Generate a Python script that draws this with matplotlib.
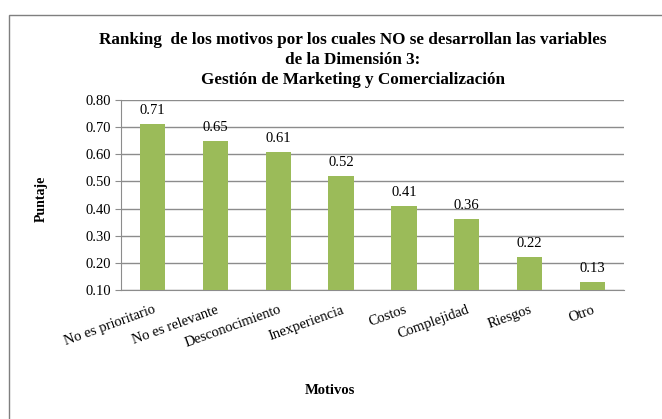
import matplotlib
matplotlib.use("Agg")
import matplotlib.pyplot as plt
from matplotlib.patches import Rectangle

categorias = ["No es prioritario", "No es relevante", "Desconocimiento", "Inexperiencia",
              "Costos", "Complejidad", "Riesgos", "Otro"]
puntaje = [0.71, 0.65, 0.61, 0.52, 0.41, 0.36, 0.22, 0.13]
ticks_y = [0.10, 0.20, 0.30, 0.40, 0.50, 0.60, 0.70, 0.80]

plt.rcParams['font.family'] = ['Liberation Serif', 'DejaVu Serif']

W, H = 662, 419
fig = plt.figure(figsize=(W / 100, H / 100), dpi=100)

# outer chart frame
fig.patches.append(Rectangle((8.5 / W, -0.1), 1.2, 1 - 15 / H + 0.1, transform=fig.transFigure,
                             fill=False, edgecolor="#7f7f7f", linewidth=1.0))

ax = fig.add_axes([121 / W, 1 - 290 / H, (624 - 121) / W, (290 - 100) / H])
x = range(len(categorias))
ax.bar(x, puntaje, width=0.4, color="#9BBB59", zorder=3)
ax.set_xlim(-0.5, len(categorias) - 0.5)
ax.set_ylim(0.10, 0.80)
ax.set_yticks(ticks_y)
ax.set_yticklabels([f"{v:.2f}" for v in ticks_y], fontsize=10.5)
ax.yaxis.grid(True, color="#8c8c8c", linewidth=1.0, zorder=0)
for s in ["top", "right"]:
    ax.spines[s].set_visible(False)
for s in ["left", "bottom"]:
    ax.spines[s].set_color("#8c8c8c")
ax.tick_params(axis="y", length=4, color="#8c8c8c", pad=3)
ax.tick_params(axis="x", length=0, pad=9.5)
ax.set_xticks(list(x))
ax.set_xticklabels(categorias, rotation=20, ha="right", rotation_mode="anchor", fontsize=10.5)

for xi, v in zip(x, puntaje):
    ax.annotate(f"{v:.2f}", (xi, v), xytext=(0, 5), textcoords="offset points",
                ha="center", va="bottom", fontsize=10.5)

fig.text(353 / W, 1 - 60 / H,
         "Ranking  de los motivos por los cuales NO se desarrollan las variables\nde la Dimensión 3:\nGestión de Marketing y Comercialización",
         ha="center", va="center", fontsize=12.3, fontweight="bold", linespacing=1.3)
fig.text(41 / W, 1 - 199 / H, "Puntaje", rotation=90, ha="center", va="center",
         fontsize=10, fontweight="bold")
fig.text(330 / W, 1 - 391 / H, "Motivos", ha="center", va="center",
         fontsize=10.5, fontweight="bold")

fig.savefig("out.png", dpi=100)
